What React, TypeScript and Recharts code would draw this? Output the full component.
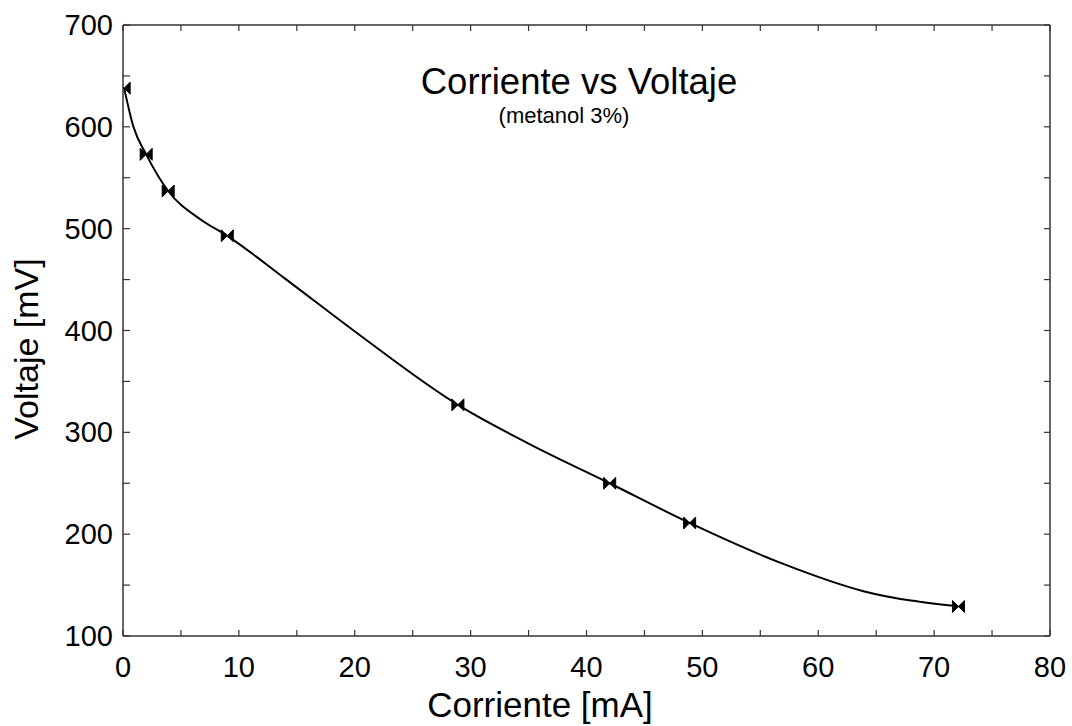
import React from "react";
import { ComposedChart, Line, Scatter, XAxis, YAxis } from "recharts";

// measured points (current mA, voltage mV)
const corriente = [0.1, 2.0, 3.9, 9.0, 28.9, 42.0, 48.9, 72.1];
const voltaje = [638, 573, 537, 493, 327, 250, 211, 129];

// fitted curve
const fitCorriente = [0.1, 0.9, 2.0, 3.9, 6.7, 9.0, 14.1, 19.9, 28.9, 35.0, 42.0, 48.9, 56.7, 63.9, 72.1];
const fitVoltaje = [638, 600, 573, 537, 509, 493, 450, 400, 327, 289, 250, 211, 172, 144, 129];

const xTicks = [0, 5, 10, 15, 20, 25, 30, 35, 40, 45, 50, 55, 60, 65, 70, 75, 80];
const yTicks = [100, 150, 200, 250, 300, 350, 400, 450, 500, 550, 600, 650, 700];

const points = corriente.map((x, i) => ({ x, v: voltaje[i] }));
const fit = fitCorriente.map((x, i) => ({ x, v: fitVoltaje[i] }));

const FONT = '"Liberation Sans", Arial, sans-serif';
const FRAME = "#333";
const TICK = 6;

const BottomTick = ({ x, y, payload }: any) => (
  <g>
    <line x1={x} x2={x} y1={y} y2={y - TICK} stroke={FRAME} strokeWidth={1.2} />
    {payload.value % 10 === 0 && (
      <text x={x} y={y + 41} textAnchor="middle" fontSize={29} fontFamily={FONT} fill="#000">
        {payload.value}
      </text>
    )}
  </g>
);

const TopTick = ({ x, y }: any) => (
  <line x1={x} x2={x} y1={y} y2={y + TICK} stroke={FRAME} strokeWidth={1.2} />
);

const LeftTick = ({ x, y, payload }: any) => (
  <g>
    <line x1={x} x2={x + TICK + 1} y1={y} y2={y} stroke={FRAME} strokeWidth={1.2} />
    {payload.value % 100 === 0 && (
      <text x={x - 10} y={y + 10} textAnchor="end" fontSize={29} fontFamily={FONT} fill="#000">
        {payload.value}
      </text>
    )}
  </g>
);

const RightTick = ({ x, y }: any) => (
  <line x1={x} x2={x - TICK} y1={y} y2={y} stroke={FRAME} strokeWidth={1.2} />
);

const Bowtie = ({ cx, cy }: any) => {
  if (cx == null || cy == null) return null;
  const w = 6;
  const h = 6;
  return (
    <g fill="#000" stroke="#000" strokeWidth={1}>
      <polygon points={`${cx - w},${cy - h} ${cx},${cy} ${cx - w},${cy + h}`} />
      <polygon points={`${cx + w},${cy - h} ${cx},${cy} ${cx + w},${cy + h}`} />
    </g>
  );
};

export default function App() {
  return (
    <div style={{ position: "absolute", left: 0, top: 0, width: 1072, height: 726, background: "#fff" }}>
      <ComposedChart width={1072} height={726} margin={{ top: 24, right: 21, bottom: 30, left: 23 }}>
        <XAxis
          xAxisId={0}
          type="number"
          dataKey="x"
          domain={[0, 80]}
          ticks={xTicks}
          interval={0}
          height={60}
          tickSize={0}
          tickMargin={0}
          tickLine={false}
          axisLine={{ stroke: FRAME, strokeWidth: 1.5 }}
          tick={<BottomTick />}
          allowDataOverflow
        />
        <XAxis
          xAxisId="top"
          orientation="top"
          type="number"
          dataKey="x"
          domain={[0, 80]}
          ticks={xTicks}
          interval={0}
          height={1}
          tickSize={0}
          tickMargin={0}
          tickLine={false}
          axisLine={{ stroke: FRAME, strokeWidth: 1.5 }}
          tick={<TopTick />}
          allowDataOverflow
        />
        <YAxis
          yAxisId={0}
          type="number"
          domain={[100, 700]}
          ticks={yTicks}
          interval={0}
          width={100}
          tickSize={0}
          tickMargin={0}
          tickLine={false}
          axisLine={{ stroke: FRAME, strokeWidth: 1.5 }}
          tick={<LeftTick />}
          allowDataOverflow
        />
        <YAxis
          yAxisId="right"
          orientation="right"
          type="number"
          domain={[100, 700]}
          ticks={yTicks}
          interval={0}
          width={1}
          tickSize={0}
          tickMargin={0}
          tickLine={false}
          axisLine={{ stroke: FRAME, strokeWidth: 1.5 }}
          tick={<RightTick />}
          allowDataOverflow
        />
        <Line
          data={fit}
          dataKey="v"
          type="monotone"
          stroke="#000"
          strokeWidth={2}
          dot={false}
          activeDot={false}
          isAnimationActive={false}
        />
        <Scatter data={points} dataKey="v" shape={<Bowtie />} isAnimationActive={false} />
        <text x={579} y={94} textAnchor="middle" fontSize={36.5} fontFamily={FONT} fill="#000">
          Corriente vs Voltaje
        </text>
        <text x={564} y={123} textAnchor="middle" fontSize={22} fontFamily={FONT} fill="#000">
          (metanol 3%)
        </text>
        <text x={540} y={717} textAnchor="middle" fontSize={35} fontFamily={FONT} fill="#000">
          Corriente [mA]
        </text>
        <text
          x={38}
          y={349}
          textAnchor="middle"
          fontSize={34}
          fontFamily={FONT}
          fill="#000"
          transform="rotate(-90 38 349)"
        >
          Voltaje [mV]
        </text>
      </ComposedChart>
    </div>
  );
}
